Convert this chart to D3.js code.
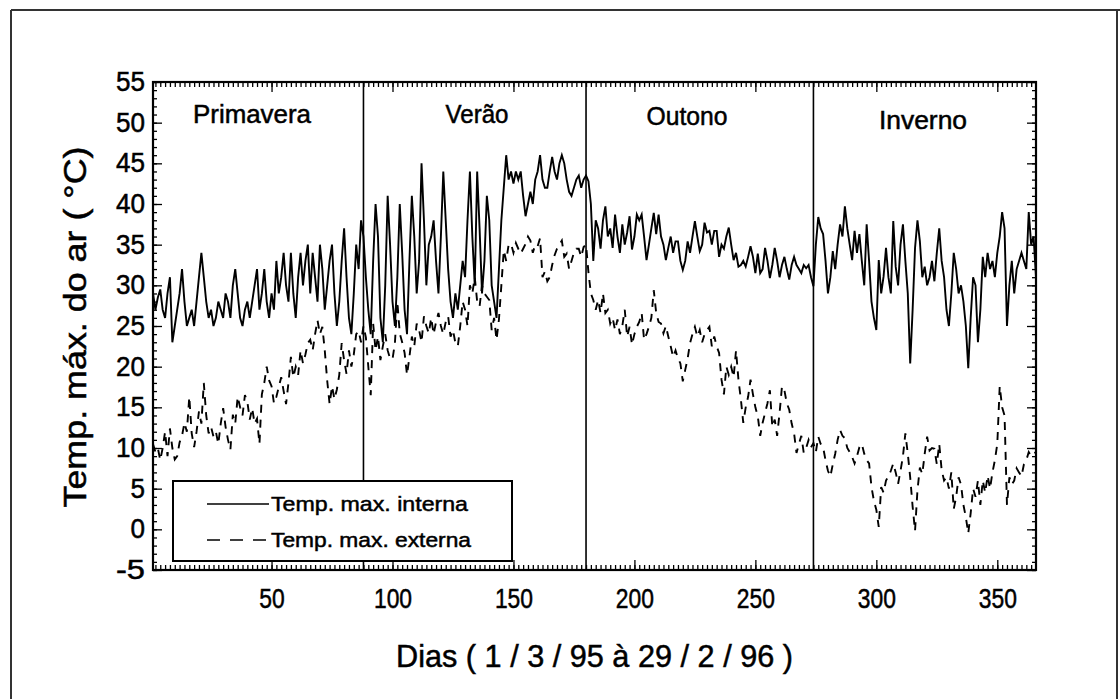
<!DOCTYPE html>
<html>
<head>
<meta charset="utf-8">
<script src="https://cdn.jsdelivr.net/npm/d3@7"></script>
<style>
  html, body { margin: 0; padding: 0; background: #fff; }
  svg { display: block; }
  svg text { stroke: #000; stroke-width: 0.5px; }
</style>
</head>
<body>
<svg id="chart" width="1120" height="699"></svg>
<script>
// daily max air temperature, 1/3/95 .. 29/2/96 (366 days)
const internaPrimavera = [
  29, 27, 28.5, 29.5, 27, 26, 29, 31, 23, 25,
  27, 29, 32, 28, 25, 26, 27, 25, 28, 31,
  34, 31, 28, 26, 27, 25, 26, 28, 27, 26,
  29, 28, 26, 30, 32, 29, 26, 25, 27, 28,
  26, 28, 30, 32, 27, 29, 32, 28, 26, 29,
  27, 33, 29, 31, 34, 30, 28, 34, 29, 26,
  31, 34, 30, 33, 35, 29, 34, 31, 28, 35,
  32, 27, 30, 33, 35, 29, 25, 28, 33, 37,
  31, 26, 24, 29, 35, 32, 38, 36
];
const internaVerao = [
  31, 27, 24, 33, 40, 36, 26, 23, 30, 41,
  35, 28, 25, 31, 40, 34, 27, 24, 33, 41,
  36, 29, 33, 45, 38, 30, 35, 36, 38, 33,
  29, 36, 44, 38, 32, 28, 26, 29, 27, 30,
  33, 31, 38, 44, 36, 30, 44, 37, 29, 33,
  41, 38, 30, 28, 26, 32, 38, 42,
  46, 43, 44, 42.5, 44, 43, 44, 41, 38.5, 40,
  41.5, 40, 43, 44, 46, 43, 42, 42, 44, 45.8,
  44, 43, 45, 46, 45, 43, 41.5, 41, 42, 43,
  43.5, 42, 43, 43.5
];
const internaOutono = [
  42.8, 40, 33, 38, 37, 34.5, 38, 39.7, 36, 37,
  34.6, 38.7, 36, 34, 37.5, 35, 36.5, 38.5, 34.4, 36,
  38.7, 38, 38.7, 36, 33.1, 35, 37, 38.9, 36.3, 38.7,
  36, 35, 33.1, 34.6, 36, 34, 35.4, 35.4, 33, 31.9,
  33, 35.4, 34, 36, 37.9, 36, 34.2, 35, 37.7, 36.5,
  36.7, 35, 36.7, 36.7, 33.5, 35, 34.5, 36, 37.1, 35,
  33.1, 34, 32.3, 32.5, 33, 32.3, 33.5, 34.8, 33.5, 31.5,
  33.9, 31.5, 32, 34.6, 33, 30.9, 32.5, 34.6, 33, 31,
  32.5, 33.5, 32, 30.7, 32.5, 33.5, 32.5, 32, 31.5, 32.5,
  32.1, 32.5, 31, 29.9
];
const internaInverno = [
  35, 38.4, 37, 36.3, 33, 29, 31, 34.2, 32, 35,
  37.5, 36, 39.7, 37, 35, 33.1, 36.7, 34, 36.3, 33,
  30, 37.5, 33, 28, 26, 24.5,
  33.1, 29, 31.1, 34.6, 31, 29, 37.9, 32.3, 30, 35,
  37.5, 33, 29, 20.4, 27, 34.6, 38, 35.4, 31, 32.3,
  30, 31, 33, 30.5, 34, 37, 33, 31, 27, 25,
  29, 34, 32, 29, 30, 28, 25, 19.8, 26, 31,
  30, 23, 27, 33.5, 31, 34, 32, 33, 31, 34,
  36, 39, 37, 25, 30, 33, 29, 32, 33, 34,
  33, 32, 39, 35, 36, 31
];

const externaPrimavera = [
  10.5, 9.5, 10, 8.5, 10, 12, 9, 12.4, 10, 8.6,
  9, 10.7, 11.5, 13.1, 12, 16.3, 11.8, 10.1, 12, 14.5,
  13, 18, 14, 11.8, 12.6, 11.4, 12, 10.5, 13, 14.9,
  12.6, 11, 9.8, 14.1, 13, 16.3, 15, 14, 16.5, 15.7,
  13.5, 14.9, 13, 13.6, 10.5, 16.6, 18, 20, 18.3, 17.6,
  15.5, 16.3, 17.5, 18.7, 17, 15.4, 18, 21.2, 18.7, 20,
  19, 22, 20.4, 21.5, 22.9, 23.3, 22, 24, 25.7, 24,
  24.9, 22, 18.3, 15.4, 17.6, 16, 17.2, 19, 22.9, 20.8,
  19.1, 22, 20, 21.5, 24, 24.4, 23, 25
];
const externaVerao = [
  23.6, 20, 16.5, 25.3, 22, 23.7, 20.8, 22.5, 24, 22,
  21, 20.9, 22.9, 28, 24.1, 23, 21.7, 19, 21.2, 23.7,
  22.5, 25.3, 24.5, 23, 26.2, 25, 24.1, 26, 24, 25.5,
  26.6, 25, 24, 25.5, 26.2, 23.7, 24.5, 22.9, 22.5, 25,
  28, 27, 25, 30, 29, 31, 28, 27.4, 30, 29,
  28.6, 28.2, 24.5, 26, 23.3, 25.8, 30, 34.3,
  33, 35, 35.1, 34, 35.2, 34.5, 33.9, 34.5, 35.1, 36,
  35.5, 34, 35, 34.8, 35.8, 31, 31.7, 30.5, 31, 32.5,
  33.7, 34.5, 35, 35.5, 33.5, 33.9, 32, 33, 34, 34.5,
  34.5, 33.5, 34.7, 35
];
const externaOutono = [
  31.6, 29, 28.2, 27, 28.2, 26.6, 29, 26.6, 27, 25.3,
  26, 24.5, 25.8, 24, 25, 27, 23.7, 24.9, 22.7, 24,
  24.9, 25.5, 26.6, 23.3, 24, 24.9, 26, 29.4, 26.6, 25.5,
  25.3, 24.1, 25, 23.7, 22.5, 21.2, 22, 21, 20.4, 18.2,
  19.6, 21, 22.9, 24, 24.9, 23.7, 24.5, 23, 24, 24.5,
  24.9, 22.5, 23.7, 22.5, 21.7, 18.4, 16.6, 20, 19, 20,
  18.7, 22, 18.4, 16, 13.1, 15, 16.3, 18.4, 16.6, 15,
  13.9, 11.5, 13.1, 14.3, 15.5, 17.1, 12.6, 13.5, 11.5, 14.3,
  17.6, 17.1, 15.5, 14.7, 13, 11.8, 9.4, 10.5, 11.5, 9.4,
  10, 11, 10.1, 10.6
];
const externaInverno = [
  9.5, 11.4, 10.5, 10.1, 8.5, 7.2, 6.5, 8, 9.3, 11,
  12.2, 11.5, 11.2, 10, 9.5, 8.9, 8.1, 9, 10.1, 10.5,
  9.3, 8.5, 8.1, 5.2, 3.5, 2.4, 0.3, 5.2, 4.5, 6,
  6.5, 7.2, 8.1, 7, 5.6, 7.2, 9, 11.8, 9.3, 6.4,
  2.8, -0.2, 4.8, 7.6, 6.8, 9.3, 11.4, 9.7, 10, 9.9,
  8, 10.5, 7.3, 6, 6.4, 5, 7, 2.5, 4, 6.4,
  5.5, 3, 1.5, -0.5, 2, 5, 4, 6, 3, 6,
  4.5, 6.6, 5, 7, 8.5, 10.5, 17.6, 15, 14, 3,
  6.4, 5.5, 6, 7.5, 7, 6.5, 8, 8.5, 9.5, 9,
  9.3, 9.5
];

const seasons = ["Primavera", "Verão", "Outono", "Inverno"];
const seasonEnds = [88, 180, 274];          // day where each season line is drawn
const xTickValues = [50, 100, 150, 200, 250, 300, 350];
const yTickValues = [-5, 0, 5, 10, 15, 20, 25, 30, 35, 40, 45, 50, 55];
const legendLabels = ["Temp. max. interna", "Temp. max. externa"];

const interna = [].concat(internaPrimavera, internaVerao, internaOutono, internaInverno);
const externa = [].concat(externaPrimavera, externaVerao, externaOutono, externaInverno);

const font = "'Liberation Sans Narrow','Arial Narrow','Liberation Sans',Arial,sans-serif";

const svg = d3.select("#chart");
const plot = { left: 153, right: 1036, top: 82, bottom: 570 };

const x = d3.scaleLinear().domain([1, 366]).range([plot.left, plot.right]);
const y = d3.scaleLinear().domain([-5, 55]).range([plot.bottom, plot.top]);

// outer frame of the scanned figure
const frame = svg.append("g").attr("stroke", "#333").attr("stroke-width", 2);
frame.append("line").attr("x1", 11).attr("x2", 1120).attr("y1", 10).attr("y2", 10);
frame.append("line").attr("x1", 11).attr("x2", 11).attr("y1", 10).attr("y2", 699);
frame.append("line").attr("x1", 1117).attr("x2", 1117).attr("y1", 10).attr("y2", 699);

// season separators
svg.append("g").selectAll("line")
    .data(seasonEnds)
    .enter().append("line")
    .attr("x1", d => x(d)).attr("x2", d => x(d))
    .attr("y1", plot.top).attr("y2", plot.bottom)
    .attr("stroke", "#000").attr("stroke-width", 1.6);

// season names
const seasonLabelPos = [
    { cx: 252, base: 123, len: 118 },
    { cx: 477, base: 123, len: 63 },
    { cx: 687, base: 125, len: 81 },
    { cx: 923, base: 129, len: 88 }
];
svg.append("g").selectAll("text")
    .data(seasons)
    .enter().append("text")
    .attr("x", (d, i) => seasonLabelPos[i].cx - seasonLabelPos[i].len / 2)
    .attr("y", (d, i) => seasonLabelPos[i].base)
    .attr("textLength", (d, i) => seasonLabelPos[i].len)
    .attr("lengthAdjust", "spacingAndGlyphs")
    .style("font-family", font).style("font-size", "25px")
    .text(d => d);

// data lines
const line = d3.line()
    .x((d, i) => x(i + 1))
    .y(d => y(d));

svg.append("path")
    .datum(externa)
    .attr("d", line)
    .attr("fill", "none")
    .attr("stroke", "#000")
    .attr("stroke-width", 1.9)
    .attr("stroke-dasharray", "8,7");

svg.append("path")
    .datum(interna)
    .attr("d", line)
    .attr("fill", "none")
    .attr("stroke", "#000")
    .attr("stroke-width", 1.9);

// axes: major + minor ticks, all pointing inward
function styleAxis(g) {
    g.select(".domain").remove();
    g.selectAll(".tick line").attr("stroke", "#000").attr("stroke-width", 1.3);
    g.selectAll("text").style("font-family", font).style("font-size", "27px").attr("fill", "#000");
}

const minorDays = d3.range(2, 366, 2);
const minorTemps = d3.range(-5, 56, 1);

svg.append("g").attr("transform", `translate(0,${plot.bottom})`)
    .call(d3.axisBottom(x).tickValues(minorDays).tickSize(-5).tickFormat(""))
    .call(styleAxis);
svg.append("g").attr("transform", `translate(0,${plot.top})`)
    .call(d3.axisTop(x).tickValues(minorDays).tickSize(-5).tickFormat(""))
    .call(styleAxis);
svg.append("g").attr("transform", `translate(0,${plot.top})`)
    .call(d3.axisTop(x).tickValues(xTickValues).tickSize(-10).tickFormat(""))
    .call(styleAxis);
const xAxis = svg.append("g").attr("transform", `translate(0,${plot.bottom})`)
    .call(d3.axisBottom(x).tickValues(xTickValues).tickSize(-10).tickPadding(19).tickFormat(d => String(d)))
    .call(styleAxis);
xAxis.selectAll("text")
    .attr("textLength", d => String(d).length * 12.7)
    .attr("lengthAdjust", "spacingAndGlyphs");

svg.append("g").attr("transform", `translate(${plot.left},0)`)
    .call(d3.axisLeft(y).tickValues(minorTemps).tickSize(-4).tickFormat(""))
    .call(styleAxis);
svg.append("g").attr("transform", `translate(${plot.right},0)`)
    .call(d3.axisRight(y).tickValues(minorTemps).tickSize(-4).tickFormat(""))
    .call(styleAxis);
svg.append("g").attr("transform", `translate(${plot.right},0)`)
    .call(d3.axisRight(y).tickValues(yTickValues).tickSize(-9).tickFormat(""))
    .call(styleAxis);
const yAxis = svg.append("g").attr("transform", `translate(${plot.left},0)`)
    .call(d3.axisLeft(y).tickValues(yTickValues).tickSize(-9).tickPadding(8).tickFormat(d => String(d)))
    .call(styleAxis);
yAxis.selectAll("text")
    .attr("textLength", d => String(d).length * 14.5)
    .attr("lengthAdjust", "spacingAndGlyphs");

// plot frame
svg.append("rect")
    .attr("x", plot.left).attr("y", plot.top)
    .attr("width", plot.right - plot.left).attr("height", plot.bottom - plot.top)
    .attr("fill", "none").attr("stroke", "#000").attr("stroke-width", 2.2);

// legend
const legend = svg.append("g");
legend.append("rect")
    .attr("x", 173).attr("y", 481).attr("width", 339).attr("height", 80)
    .attr("fill", "#fff").attr("stroke", "#000").attr("stroke-width", 2);
const legendRows = [
    { lineY: 504, base: 511, len: 197, dash: null },
    { lineY: 540, base: 547, len: 200, dash: "13,10" }
];
legendRows.forEach((r, i) => {
    legend.append("line")
        .attr("x1", 207).attr("x2", 269).attr("y1", r.lineY).attr("y2", r.lineY)
        .attr("stroke", "#000").attr("stroke-width", 1.6)
        .attr("stroke-dasharray", r.dash);
    legend.append("text")
        .attr("x", 271).attr("y", r.base)
        .attr("textLength", r.len).attr("lengthAdjust", "spacingAndGlyphs")
        .style("font-family", font).style("font-size", "21px")
        .text(legendLabels[i]);
});

// axis titles
svg.append("text")
    .attr("transform", "translate(86,327) rotate(-90)")
    .attr("text-anchor", "middle")
    .attr("textLength", 361).attr("lengthAdjust", "spacingAndGlyphs")
    .style("font-family", font).style("font-size", "32px")
    .text("Temp. máx. do ar ( °C)");

svg.append("text")
    .attr("x", 396).attr("y", 667)
    .attr("textLength", 397).attr("lengthAdjust", "spacingAndGlyphs")
    .style("font-family", font).style("font-size", "32px")
    .text("Dias ( 1 / 3 / 95 à 29 / 2 / 96 )");
</script>
</body>
</html>
